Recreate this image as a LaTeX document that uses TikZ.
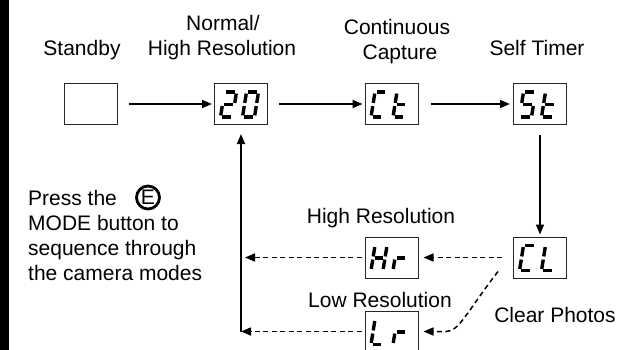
\documentclass[tikz,border=0pt]{standalone}
\usepackage{fontspec}
\setmainfont{Liberation Sans}
\usetikzlibrary{arrows.meta,calc}
\newcommand\sgA{\draw[segline] (4,-25) -- (16,-25);}
\newcommand\sgB{\draw[segline] (16,-25) -- (14,-12.5);}
\newcommand\sgC{\draw[segline] (14,-12.5) -- (12,0);}
\newcommand\sgD{\draw[segline] (0,0) -- (12,0);}
\newcommand\sgE{\draw[segline] (2,-12.5) -- (0,0);}
\newcommand\sgF{\draw[segline] (4,-25) -- (2,-12.5);}
\newcommand\sgG{\draw[segline] (2,-12.5) -- (14,-12.5);}
\newcommand\segglyph[3]{\begin{scope}[shift={(#1.center)},shift={(#2,13)}]#3\end{scope}}
\begin{document}
\begin{tikzpicture}[x=1pt,y=-1pt,
  every node/.style={font=\fontsize{21}{25}\selectfont},
  lbl/.style={anchor=base, inner sep=0pt},
  disp/.style={draw=black!85, line width=1pt, minimum width=53pt, minimum height=41pt, inner sep=0pt},
  segline/.style={line width=3.4pt, shorten <=1.6pt, shorten >=1.6pt},
  arr/.style={line width=1.6pt, -{Triangle[length=10pt,width=8pt]}},
  darr/.style={line width=1.5pt, dash pattern=on 5pt off 3.5pt, -{Triangle[length=10pt,width=8pt]}}]
\useasboundingbox (0,0) rectangle (631,350);
\fill[black] (0,0) rectangle (9,350);
% display boxes
\node[disp] (sb) at (90.5,104) {};
\node[disp] (n20) at (241,104) {};
\node[disp] (ct) at (391.5,104) {};
\node[disp] (st) at (540,104) {};
\node[disp] (cl) at (540,257.5) {};
\node[disp] (hr) at (391.5,257.5) {};
\node[disp] (lr) at (391.5,331.5) {};
\coordinate (corner) at (241,331.5);
\coordinate (hrleft) at (hr.west -| corner);
% glyphs
\segglyph{n20}{-20.5}{\sgA\sgB\sgG\sgE\sgD}
\segglyph{n20}{1.5}{\sgA\sgB\sgC\sgD\sgE\sgF}
\segglyph{ct}{-20.5}{\sgA\sgF\sgE\sgD}
\segglyph{ct}{1.5}{\sgF\sgG\sgE\sgD}
\segglyph{st}{-20.5}{\sgA\sgF\sgG\sgC\sgD}
\segglyph{st}{1.5}{\sgF\sgG\sgE\sgD}
\segglyph{hr}{-20.5}{\sgB\sgC\sgE\sgF\sgG}
\segglyph{hr}{1.5}{\sgE\sgG}
\segglyph{cl}{-20.5}{\sgA\sgF\sgE\sgD}
\segglyph{cl}{1.5}{\sgF\sgE\sgD}
\segglyph{lr}{-20.5}{\sgF\sgE\sgD}
\segglyph{lr}{1.5}{\sgE\sgG}
% connectors
\draw[arr] ([xshift=11pt]sb.east) -- ([xshift=-2pt]n20.west);
\draw[arr] ([xshift=11pt]n20.east) -- ([xshift=-2pt]ct.west);
\draw[arr] ([xshift=12pt]ct.east) -- ([xshift=-3pt]st.west);
\draw[arr] ([yshift=-10pt]st.south) -- ([yshift=2pt]cl.north);
\draw[darr] ([xshift=-11pt]cl.west) -- ([xshift=5pt]hr.east);
\draw[darr] ([xshift=-3pt]hr.west) -- ([xshift=4pt]hrleft);
\draw[darr] ([xshift=-3pt]lr.west) -- (corner);
\draw[arr] (corner) -- ([yshift=-9pt]n20.south);
\draw[darr] ([shift={(-15pt,7pt)}]cl.south west) .. controls (466,313) and (459,331.5) .. (446,331.5) -- ([xshift=5pt]lr.east);
% labels
\node[lbl] (tsb) at (82,56) {Standby};
\node[lbl] (tn1) at (223,31) {Normal/};
\node[lbl] (tn2) at (222,56) {High Resolution};
\node[lbl] (tc1) at (397,35) {Continuous};
\node[lbl] (tc2) at (400,60) {Capture};
\node[lbl] (tst) at (537,56) {Self Timer};
\node[lbl] (thr) at (381,223) {High Resolution};
\node[lbl] (tlr) at (380,307) {Low Resolution};
\node[lbl] (tcl) at (555,322) {Clear Photos};
\node[lbl, anchor=base west] (p1) at (28,205) {Press the};
\node[lbl, anchor=base west] (p2) at (28,230) {MODE button to};
\node[lbl, anchor=base west] (p3) at (28,255) {sequence through};
\node[lbl, anchor=base west] (p4) at (28,280) {the camera modes};
\node[inner sep=0pt] (ebtn) at (148,197.5) {E};
\draw[line width=2.8pt] (ebtn.center) circle[radius=11.5pt];
\end{tikzpicture}
\end{document}
